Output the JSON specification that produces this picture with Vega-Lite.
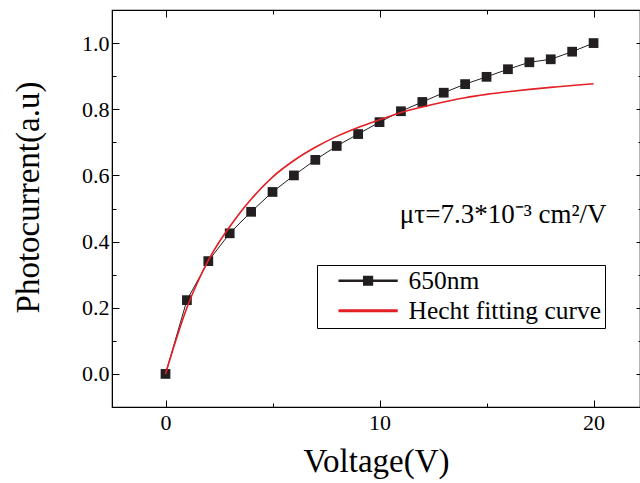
{
  "$schema": "https://vega.github.io/schema/vega-lite/v6.json",
  "width": 528,
  "height": 397,
  "autosize": "none",
  "padding": {"left": 112, "top": 10, "right": 0, "bottom": 76},
  "background": "white",
  "config": {
    "view": {"stroke": "black", "strokeWidth": 1.2},
    "font": "Liberation Serif, Times New Roman, serif",
    "axis": {"labelFont": "Liberation Serif, Times New Roman, serif", "titleFont": "Liberation Serif, Times New Roman, serif"},
    "legend": {"labelFont": "Liberation Serif, Times New Roman, serif"},
    "text": {"font": "Liberation Serif, Times New Roman, serif"}
  },
  "datasets": {
    "meas": [
      {"V": 0, "P": 0.0, "s": "650nm"},
      {"V": 1, "P": 0.223, "s": "650nm"},
      {"V": 2, "P": 0.341, "s": "650nm"},
      {"V": 3, "P": 0.425, "s": "650nm"},
      {"V": 4, "P": 0.49, "s": "650nm"},
      {"V": 5, "P": 0.55, "s": "650nm"},
      {"V": 6, "P": 0.6, "s": "650nm"},
      {"V": 7, "P": 0.647, "s": "650nm"},
      {"V": 8, "P": 0.689, "s": "650nm"},
      {"V": 9, "P": 0.725, "s": "650nm"},
      {"V": 10, "P": 0.761, "s": "650nm"},
      {"V": 11, "P": 0.794, "s": "650nm"},
      {"V": 12, "P": 0.822, "s": "650nm"},
      {"V": 13, "P": 0.85, "s": "650nm"},
      {"V": 14, "P": 0.876, "s": "650nm"},
      {"V": 15, "P": 0.898, "s": "650nm"},
      {"V": 16, "P": 0.921, "s": "650nm"},
      {"V": 17, "P": 0.942, "s": "650nm"},
      {"V": 18, "P": 0.951, "s": "650nm"},
      {"V": 19, "P": 0.974, "s": "650nm"},
      {"V": 20, "P": 1.0, "s": "650nm"}
    ],
    "fit": [
      {"V": 0, "P": 0.0, "s": "Hecht fitting curve"},
      {"V": 0.5, "P": 0.105, "s": "Hecht fitting curve"},
      {"V": 1, "P": 0.2, "s": "Hecht fitting curve"},
      {"V": 1.5, "P": 0.277, "s": "Hecht fitting curve"},
      {"V": 2, "P": 0.343, "s": "Hecht fitting curve"},
      {"V": 2.5, "P": 0.398, "s": "Hecht fitting curve"},
      {"V": 3, "P": 0.445, "s": "Hecht fitting curve"},
      {"V": 3.5, "P": 0.489, "s": "Hecht fitting curve"},
      {"V": 4, "P": 0.528, "s": "Hecht fitting curve"},
      {"V": 5, "P": 0.595, "s": "Hecht fitting curve"},
      {"V": 6, "P": 0.645, "s": "Hecht fitting curve"},
      {"V": 7, "P": 0.685, "s": "Hecht fitting curve"},
      {"V": 8, "P": 0.718, "s": "Hecht fitting curve"},
      {"V": 9, "P": 0.745, "s": "Hecht fitting curve"},
      {"V": 10, "P": 0.768, "s": "Hecht fitting curve"},
      {"V": 11, "P": 0.79, "s": "Hecht fitting curve"},
      {"V": 12, "P": 0.807, "s": "Hecht fitting curve"},
      {"V": 13, "P": 0.822, "s": "Hecht fitting curve"},
      {"V": 14, "P": 0.835, "s": "Hecht fitting curve"},
      {"V": 15, "P": 0.845, "s": "Hecht fitting curve"},
      {"V": 16, "P": 0.853, "s": "Hecht fitting curve"},
      {"V": 17, "P": 0.86, "s": "Hecht fitting curve"},
      {"V": 18, "P": 0.866, "s": "Hecht fitting curve"},
      {"V": 19, "P": 0.872, "s": "Hecht fitting curve"},
      {"V": 20, "P": 0.877, "s": "Hecht fitting curve"}
    ],
    "note": [
      {"V": 10.95, "P": 0.456, "label": "μτ=7.3*10⁻³ cm²/V"}
    ]
  },
  "layer": [
    {
      "data": {"name": "meas"},
      "mark": {"type": "line", "strokeWidth": 1},
      "encoding": {
        "x": {
          "field": "V", "type": "quantitative",
          "scale": {"domain": [-2.5, 22.17], "nice": false, "zero": false},
          "axis": {
            "orient": "bottom",
            "values": [0, 5, 10, 15, 20],
            "labelExpr": "datum.value % 10 === 0 ? datum.label : ''",
            "tickSize": {"condition": {"test": "datum.value % 10 === 0", "value": -7}, "value": -4},
            "tickColor": "black", "domainColor": "black", "grid": false,
            "labelFont": "Liberation Serif, Times New Roman, serif", "labelFontSize": 22, "labelColor": "black",
            "labelPadding": 12, "labelFlush": false,
            "title": "Voltage(V)", "titleFontSize": 33,
            "titleFontWeight": "normal", "titleColor": "black", "titlePadding": 12
          }
        },
        "y": {
          "field": "P", "type": "quantitative",
          "scale": {"domain": [-0.1, 1.1], "nice": false, "zero": false},
          "axis": {
            "orient": "left",
            "values": [0, 0.1, 0.2, 0.3, 0.4, 0.5, 0.6, 0.7, 0.8, 0.9, 1.0],
            "labelExpr": "round(datum.value*10) % 2 === 0 ? format(datum.value, '.1f') : ''",
            "tickSize": {"condition": {"test": "round(datum.value*10) % 2 === 0", "value": -7}, "value": -4},
            "tickColor": "black", "domainColor": "black", "grid": false,
            "labelFont": "Liberation Serif, Times New Roman, serif", "labelFontSize": 22, "labelColor": "black",
            "labelPadding": 10, "labelFlush": false,
            "title": "Photocurrent(a.u)", "titleFontSize": 33,
            "titleFontWeight": "normal", "titleColor": "black", "titlePadding": 36, "titleY": 187
          }
        },
        "color": {
          "field": "s", "type": "nominal",
          "scale": {"domain": ["650nm", "Hecht fitting curve"], "range": ["#231f20", "#e31e24"]},
          "legend": {
            "orient": "none", "legendX": 205, "legendY": 255,
            "title": null, "strokeColor": "black", "padding": 3,
            "labelFontSize": 25.5, "labelColor": "black",
            "labelLimit": 400, "symbolSize": 361, "labelOffset": 63, "rowPadding": 3,
            "encode": {
              "symbols": {
                "update": {
                  "shape": {"signal": "datum.value === '650nm' ? 'M0.68,-0.055H3.26V-0.46H4.18V-0.055H6.76V0.055H4.18V0.46H3.26V0.055H0.68Z' : 'M0.68,-0.08H6.76V0.08H0.68Z'"},
                  "fill": {"signal": "datum.value === '650nm' ? '#231f20' : '#e31e24'"},
                  "fillOpacity": {"value": 1},
                  "stroke": {"value": "transparent"},
                  "opacity": {"value": 1}
                }
              }
            }
          }
        }
      }
    },
    {
      "data": {"name": "meas"},
      "mark": {"type": "point", "shape": "square", "filled": true, "size": 95, "color": "#231f20", "opacity": 1},
      "encoding": {
        "x": {
          "field": "V", "type": "quantitative",
          "axis": {
            "orient": "top", "values": [0, 5, 10, 15, 20], "labels": false, "title": null,
            "tickSize": {"condition": {"test": "datum.value % 10 === 0", "value": -7}, "value": -4},
            "tickColor": "black", "domainColor": "black", "grid": false
          }
        },
        "y": {
          "field": "P", "type": "quantitative",
          "axis": {
            "orient": "right",
            "values": [0, 0.1, 0.2, 0.3, 0.4, 0.5, 0.6, 0.7, 0.8, 0.9, 1.0],
            "labels": false, "title": null,
            "tickSize": {"condition": {"test": "round(datum.value*10) % 2 === 0", "value": -4}, "value": -2},
            "tickColor": "black", "domainColor": "black", "grid": false
          }
        }
      }
    },
    {
      "data": {"name": "fit"},
      "mark": {"type": "line", "strokeWidth": 1.6, "interpolate": "monotone"},
      "encoding": {
        "x": {"field": "V", "type": "quantitative", "axis": null},
        "y": {"field": "P", "type": "quantitative", "axis": null},
        "color": {"field": "s", "type": "nominal"}
      }
    },
    {
      "data": {"name": "note"},
      "mark": {"type": "text", "align": "left", "baseline": "alphabetic", "font": "Liberation Serif, Times New Roman, serif", "fontSize": 27, "color": "black"},
      "encoding": {
        "x": {"field": "V", "type": "quantitative", "axis": null},
        "y": {"field": "P", "type": "quantitative", "axis": null},
        "text": {"field": "label"}
      }
    }
  ],
  "resolve": {"axis": {"x": "independent", "y": "independent"}}
}
